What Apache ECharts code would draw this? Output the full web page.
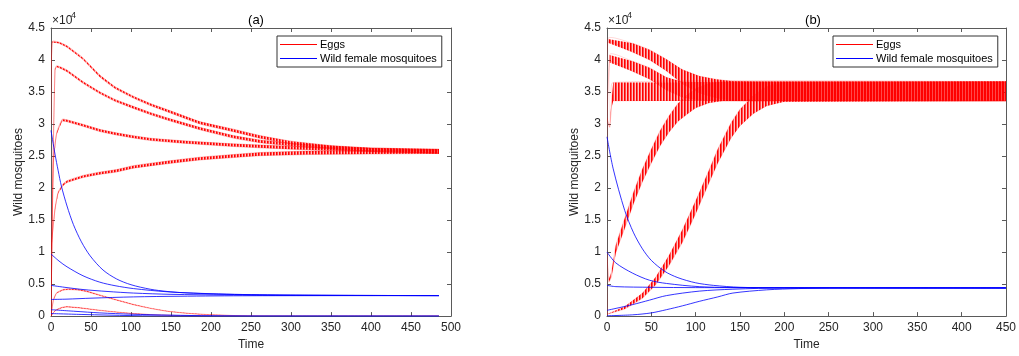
<!DOCTYPE html>
<html>
<head>
<meta charset="utf-8">
<script src="https://cdn.jsdelivr.net/npm/echarts@6/dist/echarts.min.js"></script>
<style>
  html, body { margin: 0; padding: 0; background: #ffffff; }
  #chart { width: 1019px; height: 356px; }
</style>
</head>
<body>
<div id="chart"></div>
<script>
// ---------- DATA ----------
// Panel (a): egg trajectories as [time, middle value, half zig-zag amplitude]
const a_eggs1 = [[0,30000,0],[1.5,42800,80],[10,42700,100],[20,42100,120],[40,40200,130],[61,37500,140],[80,35700,140],[103,34200,150],[125,33000,160],[145,32100,170],[186,30200,180],[228,29000,200],[261,28000,210],[300,27100,230],[350,26400,250],[400,26000,270],[485,25800,290]];
const a_eggs2 = [[0,0,0],[2,20000,0],[5,38500,70],[7,39000,100],[12,38800,120],[20,38300,130],[40,36500,140],[61,34900,140],[80,33700,150],[103,32600,160],[125,31600,160],[145,30800,170],[186,29300,180],[228,28000,200],[261,27300,210],[300,26800,230],[350,26300,250],[400,26000,270],[485,25700,290]];
const a_eggs3 = [[0,0,0],[3,24000,70],[7,28500,100],[14,30600,140],[20,30500,150],[40,29800,160],[61,29000,170],[80,28500,170],[103,28000,180],[125,27600,180],[165,27200,190],[228,26700,210],[300,26300,230],[400,25900,270],[485,25700,290]];
const a_eggs4 = [[0,10500,0],[5,16700,70],[9,19300,100],[15,20500,140],[20,21000,150],[40,21800,170],[60,22300,180],[82,22700,190],[103,23300,200],[145,24000,210],[186,24600,220],[228,25000,240],[261,25300,250],[320,25500,270],[400,25600,280],[485,25700,290]];
const a_eggs5 = [[0,0,0],[3,2500,40],[7,3600,50],[15,4100,60],[22,4200,60],[35,4100,60],[45,3850,60],[60,3300,50],[74,2800,45],[90,2250,40],[103,1800,35],[125,1200,30],[145,770,20],[165,500,15],[186,300,10],[220,120,5],[250,30,0],[300,0,0],[485,0,0]];
const a_eggs6 = [[0,0,0],[4,700,20],[7,1000,30],[14,1350,35],[20,1450,35],[35,1300,35],[61,900,30],[80,650,20],[103,400,15],[130,200,8],[160,80,4],[190,20,0],[230,0,0],[485,0,0]];
// Panel (a): wild female mosquitoes [time, value]
const a_wild1 = [[0,29000],[5,25300],[9,22700],[13,20300],[20,17200],[28,14300],[38,11600],[49,9400],[65,7200],[82,5800],[100,4900],[124,4200],[145,3850],[165,3650],[220,3400],[300,3250],[485,3200]];
const a_wild2 = [[0,9700],[10,8600],[20,7700],[40,6300],[61,5300],[80,4750],[103,4300],[145,3800],[200,3500],[280,3300],[485,3200]];
const a_wild3 = [[0,4800],[20,4450],[40,4150],[70,3850],[103,3600],[150,3400],[220,3300],[485,3200]];
const a_wild4 = [[0,2600],[20,2650],[50,2800],[103,3000],[160,3100],[250,3180],[485,3200]];
const a_wild5 = [[0,1000],[30,750],[61,500],[100,300],[150,150],[200,50],[260,0],[485,0]];
const a_wild6 = [[0,400],[40,250],[100,80],[160,0],[485,0]];

// Panel (b): egg trajectories [time, middle value, half zig-zag amplitude]
const b_eggs1 = [[0,0,0],[1,43000,300],[29,41900,700],[48,40800,800],[67,39200,900],[85,37400,1100],[104,36200,1300],[123,35550,1450],[142,35200,1500],[170,35100,1500],[450,35100,1500]];
const b_eggs2 = [[0,0,0],[3,40200,600],[29,39000,800],[48,37900,900],[67,36300,1000],[85,35400,1200],[104,35150,1400],[130,35100,1500],[450,35100,1500]];
const b_eggs3 = [[0,31000,0],[3,29500,0],[5,33000,500],[7,35050,1450],[450,35100,1500]];
const b_eggs4 = [[0,10000,0],[2,5500,200],[5,6500,400],[10,10500,600],[20,14500,800],[30,18500,900],[40,22000,1000],[50,25000,1100],[60,27800,1200],[70,30000,1300],[80,31800,1400],[90,33000,1500],[100,34000,1500],[115,34800,1500],[130,35100,1500],[450,35100,1500]];
const b_eggs5 = [[0,300,0],[20,1300,200],[40,3200,400],[55,5500,600],[70,8700,800],[85,12500,1000],[100,17000,1000],[115,21800,1000],[125,25000,1100],[140,29000,1200],[150,31000,1300],[165,33000,1400],[180,34300,1500],[200,35000,1500],[450,35100,1500]];
// Panel (b): wild female mosquitoes [time, value]
const b_wild1 = [[0,28000],[7,23000],[20,16500],[30,13000],[40,10500],[50,8700],[65,7000],[80,6000],[100,5200],[120,4800],[150,4500],[200,4400],[450,4400]];
const b_wild2 = [[0,10000],[10,8300],[29,6700],[48,5600],[67,5100],[104,4600],[150,4450],[450,4400]];
const b_wild3 = [[0,4800],[10,4600],[50,4500],[100,4450],[450,4400]];
const b_wild4 = [[0,900],[29,1800],[48,2500],[67,3200],[104,3900],[142,4200],[200,4400],[450,4400]];
const b_wild5 = [[0,50],[29,200],[50,500],[67,1000],[85,1600],[104,2300],[125,3000],[142,3600],[180,4100],[216,4300],[260,4400],[450,4400]];

const panelTitles = ['(a)', '(b)'];
const xMax = [500, 450];
const yMax = 45000;
const tickStep = { x: 50, y: 5000 };
const legendNames = ['Eggs', 'Wild female mosquitoes'];
const axisNames = { x: 'Time', y: 'Wild mosquitoes' };

// ---------- CHART ----------
const RED = '#ff0000', BLUE = '#0000ff', TXT = '#262626', BOX = '#5a5a5a';
const FONT = '"Liberation Sans", Arial, sans-serif';

function zigzagPattern() {
  const c = document.createElement('canvas');
  c.width = 3; c.height = 1;
  const g = c.getContext('2d');
  g.fillStyle = 'rgba(255,0,0,1)'; g.fillRect(0, 0, 1, 1);
  g.fillStyle = 'rgba(255,0,0,0.7)'; g.fillRect(1, 0, 1, 1);
  g.fillStyle = 'rgba(255,0,0,0.22)'; g.fillRect(2, 0, 1, 1);
  return { image: c, repeat: 'repeat' };
}
const pattern = zigzagPattern();

const series = [];
// empty series that only give the legend its coloured icons
series.push({ type: 'custom', name: legendNames[0], data: [], xAxisIndex: 0, yAxisIndex: 0,
  renderItem: () => null, itemStyle: { color: RED } });
series.push({ type: 'custom', name: legendNames[1], data: [], xAxisIndex: 0, yAxisIndex: 0,
  renderItem: () => null, itemStyle: { color: BLUE } });

function addBand(data, axisIdx, edgeAlpha) {
  series.push({
    type: 'custom', name: legendNames[0], coordinateSystem: 'cartesian2d',
    xAxisIndex: axisIdx, yAxisIndex: axisIdx,
    data: [[data[0][0], data[0][1]]],
    silent: true, clip: true, animation: false, z: 2,
    itemStyle: { color: RED },
    renderItem: function (params, api) {
      const up = data.map(d => api.coord([d[0], d[1] + d[2]]));
      const lo = data.map(d => api.coord([d[0], d[1] - d[2]]));
      const poly = up.concat(lo.slice().reverse());
      const edge = { stroke: 'rgba(255,0,0,' + edgeAlpha + ')', lineWidth: 0.6, fill: null };
      return {
        type: 'group',
        children: [
          { type: 'polygon', shape: { points: poly }, style: { fill: pattern, stroke: null } },
          { type: 'polyline', shape: { points: up, smooth: 0.2 }, style: edge },
          { type: 'polyline', shape: { points: lo, smooth: 0.2 }, style: edge }
        ]
      };
    }
  });
}
function addWild(data, axisIdx) {
  series.push({
    type: 'line', name: legendNames[1], xAxisIndex: axisIdx, yAxisIndex: axisIdx,
    data: data, symbol: 'none', smooth: 0.3, silent: true, animation: false,
    color: BLUE, lineStyle: { width: 0.8, color: BLUE }, itemStyle: { color: BLUE }, z: 3
  });
}
[a_eggs1, a_eggs2, a_eggs3, a_eggs4, a_eggs5, a_eggs6].forEach(d => addBand(d, 0, 0.45));
[b_eggs1, b_eggs2, b_eggs3, b_eggs4, b_eggs5].forEach(d => addBand(d, 2, 0.25));
[a_wild1, a_wild2, a_wild3, a_wild4, a_wild5, a_wild6].forEach(d => addWild(d, 0));
[b_wild1, b_wild2, b_wild3, b_wild4, b_wild5].forEach(d => addWild(d, 2));

const grids = [
  { left: 51, top: 28, width: 400, height: 292 },
  { left: 607, top: 28, width: 401, height: 292 }
];

const xAxes = [], yAxes = [];
[0, 1].forEach(i => {
  xAxes.push({
    type: 'value', gridIndex: i, min: 0, max: xMax[i], interval: tickStep.x, position: 'bottom',
    name: axisNames.x, nameLocation: 'middle', nameGap: 22,
    nameTextStyle: { color: TXT, fontSize: 12, fontFamily: FONT },
    axisLine: { show: true, onZero: false, lineStyle: { color: BOX, width: 1 } },
    axisTick: { show: true, inside: true, length: 4, lineStyle: { color: BOX } },
    axisLabel: { color: TXT, fontSize: 12, fontFamily: FONT, margin: 6 },
    splitLine: { show: false }
  });
  xAxes.push({
    type: 'value', gridIndex: i, min: 0, max: xMax[i], interval: tickStep.x, position: 'top',
    axisLine: { show: true, onZero: false, lineStyle: { color: BOX, width: 1 } },
    axisTick: { show: true, inside: true, length: 4, lineStyle: { color: BOX } },
    axisLabel: { show: false }, splitLine: { show: false }
  });
  yAxes.push({
    type: 'value', gridIndex: i, min: 0, max: yMax, interval: tickStep.y, position: 'left',
    name: axisNames.y, nameLocation: 'middle', nameGap: 26,
    nameTextStyle: { color: TXT, fontSize: 12, fontFamily: FONT },
    axisLine: { show: true, onZero: false, lineStyle: { color: BOX, width: 1 } },
    axisTick: { show: true, inside: true, length: 4, lineStyle: { color: BOX } },
    axisLabel: { color: TXT, fontSize: 12, fontFamily: FONT, margin: 6,
      formatter: v => v === 0 ? '0' : String(v / 10000) },
    splitLine: { show: false }
  });
  yAxes.push({
    type: 'value', gridIndex: i, min: 0, max: yMax, interval: tickStep.y, position: 'right',
    axisLine: { show: true, onZero: false, lineStyle: { color: BOX, width: 1 } },
    axisTick: { show: true, inside: true, length: 4, lineStyle: { color: BOX } },
    axisLabel: { show: false }, splitLine: { show: false }
  });
});

function makeLegend(left) {
  return {
    left: left, top: 36, orient: 'vertical', selectedMode: false,
    backgroundColor: '#ffffff', borderColor: '#333333', borderWidth: 1,
    padding: [3, 5, 3, 3], itemGap: 3, itemWidth: 37, itemHeight: 1.2,
    textStyle: { color: '#000', fontSize: 11, fontFamily: FONT, padding: [0, 0, 0, -2] },
    data: [
      { name: legendNames[0], icon: 'rect' },
      { name: legendNames[1], icon: 'rect' }
    ]
  };
}

const option = {
  backgroundColor: '#ffffff',
  animation: false,
  textStyle: { fontFamily: FONT },
  title: [
    { text: panelTitles[0], left: 251, top: 9, textAlign: 'center',
      textStyle: { fontSize: 13, fontWeight: 'normal', color: '#000', fontFamily: FONT } },
    { text: panelTitles[1], left: 808, top: 9, textAlign: 'center',
      textStyle: { fontSize: 13, fontWeight: 'normal', color: '#000', fontFamily: FONT } }
  ],
  grid: grids,
  xAxis: xAxes,
  yAxis: yAxes,
  legend: [makeLegend(277), makeLegend(833)],
  graphic: [
    { type: 'text', left: 52, top: 15, style: { text: '×10', fontSize: 12, fill: TXT, fontFamily: FONT } },
    { type: 'text', left: 71, top: 11, style: { text: '4', fontSize: 9, fill: TXT, fontFamily: FONT } },
    { type: 'text', left: 608, top: 15, style: { text: '×10', fontSize: 12, fill: TXT, fontFamily: FONT } },
    { type: 'text', left: 627, top: 11, style: { text: '4', fontSize: 9, fill: TXT, fontFamily: FONT } }
  ],
  series: series
};

const chart = echarts.init(document.getElementById('chart'), null, { renderer: 'canvas' });
chart.setOption(option);
</script>
</body>
</html>
